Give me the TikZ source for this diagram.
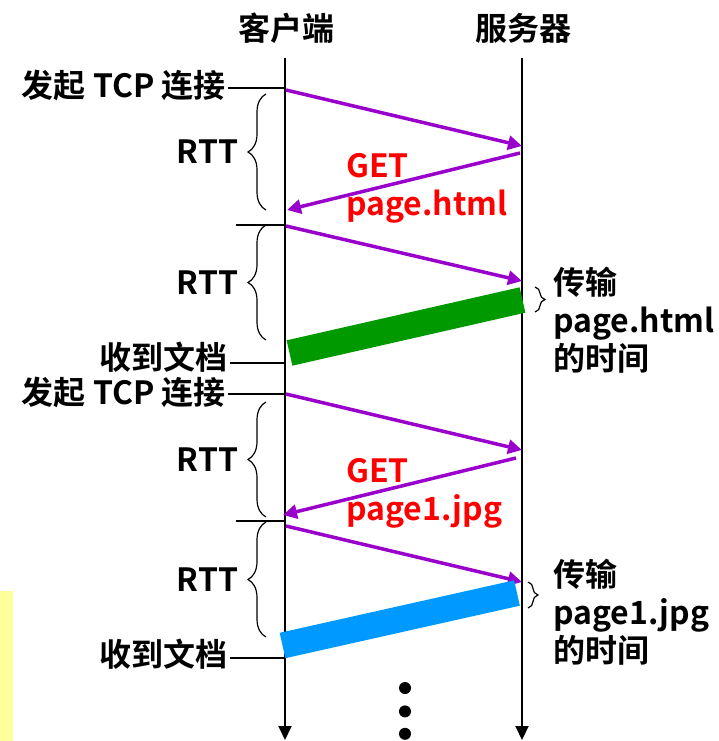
\documentclass[tikz,border=0pt]{standalone}
\usepackage{fontspec}
\setmainfont{Noto Sans CJK SC Bold}
\usetikzlibrary{arrows.meta,positioning,calc,decorations.pathreplacing}
\definecolor{msgpurple}{HTML}{9900CC}
\definecolor{getred}{HTML}{FF0000}
\definecolor{htmlgreen}{HTML}{009900}
\definecolor{jpgblue}{HTML}{0099FF}
\definecolor{notefill}{HTML}{FFFF99}

\begin{document}
\begin{tikzpicture}[
  x=1pt, y=-1pt,
  font=\fontsize{32}{38}\selectfont,
  lbl/.style={inner sep=2pt, anchor=east},
  getlbl/.style={inner sep=0pt, anchor=west, align=left, text=getred},
  note/.style={inner sep=0pt, anchor=west, align=left},
  lifeline/.style={draw=black, line width=2pt, -{Triangle[length=14pt,width=13pt]}},
  tick/.style={draw=black, line width=1.3pt},
  msg/.style={draw=msgpurple, line width=3.5pt, -{Triangle[length=14pt,width=14pt]}},
  rttbrace/.style={draw=black, line width=1.2pt, decorate, decoration={brace, amplitude=18pt}},
  xferbrace/.style={draw=black, line width=1.2pt, decorate, decoration={brace, amplitude=10pt}},
  xferbar/.style={line width=26pt},
  dot/.style={circle, fill=black, inner sep=0pt, minimum size=12pt}
]
\useasboundingbox (0,0) rectangle (718,741);

% Yellow strip
\fill[notefill] (0,591) rectangle (13,741);

% Hosts and lifelines
\node (client) at (286,28) {客户端};
\node (server) at (523,28) {服务器};
\coordinate (ctop) at (285,58);
\coordinate (cbot) at (285,740);
\coordinate (stop) at (522,58);
\coordinate (sbot) at (522,740);
\draw[lifeline] (ctop) -- (cbot);
\draw[lifeline] (stop) -- (sbot);

% Round 1: page.html
\coordinate (t1) at (285,88);
\coordinate (t2) at (285,225);
\coordinate (t3) at (285,363);
\node[lbl] (conn1) at (228,85) {发起 TCP 连接};
\node[lbl] (recv1) at (230,357) {收到文档};
\draw[tick] (conn1.east |- t1) -- (t1);
\draw[tick] ($(t2)+(-49,0)$) -- (t2);
\draw[tick] (recv1.east |- t3) -- (t3);

\coordinate (cA) at (286,90);
\coordinate (sA) at (522,146);
\coordinate (sB) at (520,153);
\coordinate (cB) at (287,210);
\coordinate (cC) at (286,226);
\coordinate (sC) at (522,281);
\draw[msg] (cA) -- (sA);
\draw[msg] (sB) -- (cB);
\draw[msg] (cC) -- (sC);
\node[getlbl] (get1) at (346,188) {GET\\page.html};

\draw[rttbrace] (266,210) -- (266,94) node[midway, anchor=east, xshift=-24pt] (rtt1) {RTT};
\draw[rttbrace] (266,340) -- (266,225) node[midway, anchor=east, xshift=-24pt] (rtt2) {RTT};

\coordinate (gL) at (289.5,353);
\coordinate (gR) at (522.5,300);
\draw[xferbar, htmlgreen] (gL) -- (gR);
\draw[xferbrace] (535,287) -- (535,312);
\node[note] (xfer1) at (553,320) {传输\\page.html\\的时间};

% Round 2: page1.jpg
\coordinate (t4) at (285,394);
\coordinate (t5) at (285,521);
\coordinate (t6) at (285,658);
\node[lbl] (conn2) at (228,392) {发起 TCP 连接};
\node[lbl] (recv2) at (230,654) {收到文档};
\draw[tick] (conn2.east |- t4) -- (t4);
\draw[tick] ($(t5)+(-49,0)$) -- (t5);
\draw[tick] (recv2.east |- t6) -- (t6);

\coordinate (cD) at (286,394);
\coordinate (sD) at (522,450);
\coordinate (sE) at (516,458);
\coordinate (cE) at (283,515);
\coordinate (cF) at (286,526);
\coordinate (sF) at (522,582);
\draw[msg] (cD) -- (sD);
\draw[msg] (sE) -- (cE);
\draw[msg] (cF) -- (sF);
\node[getlbl] (get2) at (346,493) {GET\\page1.jpg};

\draw[rttbrace] (266,517) -- (266,402) node[midway, anchor=east, xshift=-24pt] (rtt3) {RTT};
\draw[rttbrace] (266,637) -- (266,522) node[midway, anchor=east, xshift=-24pt] (rtt4) {RTT};

\coordinate (bL) at (282.5,645.5);
\coordinate (bR) at (517,593);
\draw[xferbar, jpgblue] (bL) -- (bR);
\draw[xferbrace] (528,582) -- (528,608);
\node[note] (xfer2) at (553,612) {传输\\page1.jpg\\的时间};

% More rounds
\node[dot] (dot1) at (405,688) {};
\node[dot, below=11pt of dot1] (dot2) {};
\node[dot, below=10pt of dot2] (dot3) {};

\end{tikzpicture}
\end{document}
